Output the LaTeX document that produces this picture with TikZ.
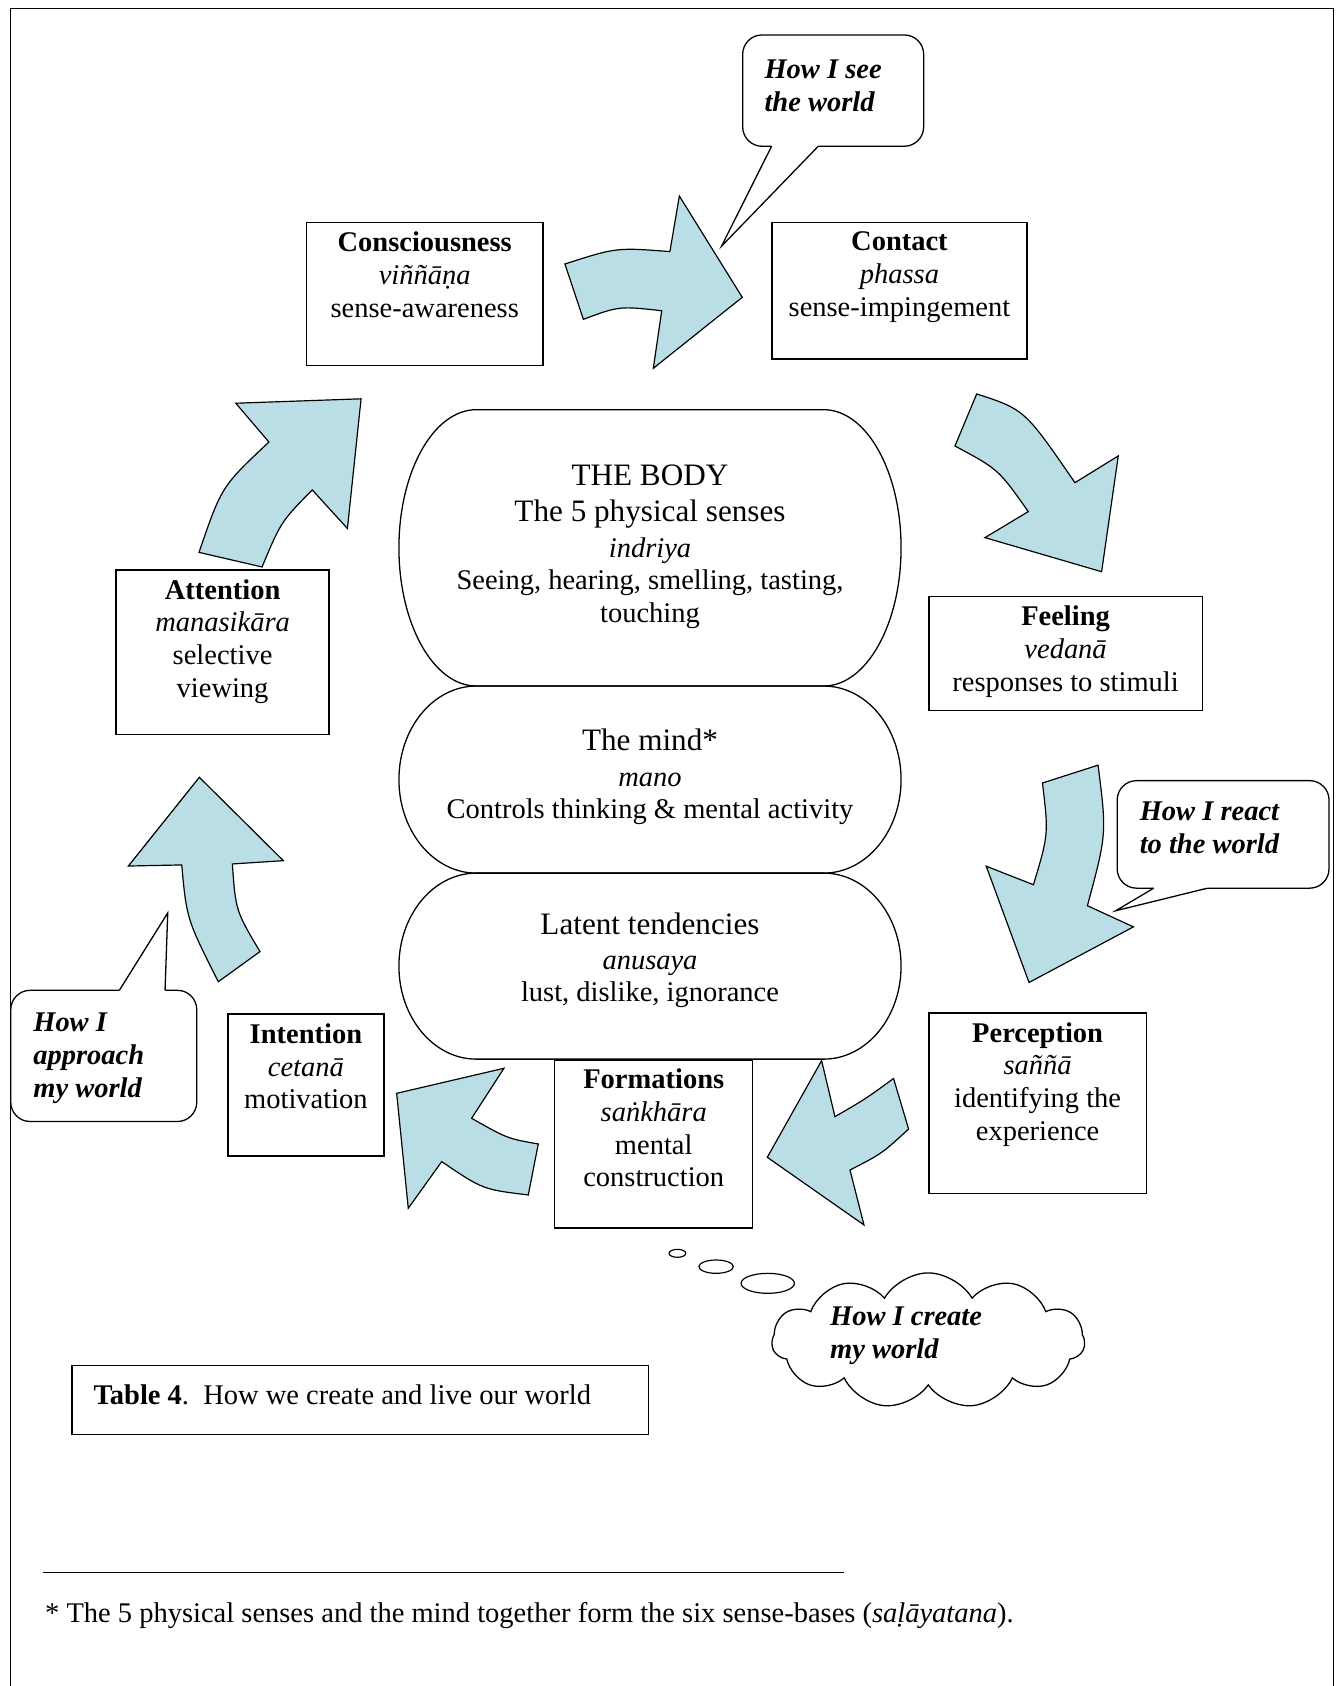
\documentclass[tikz,border=0pt]{standalone}
\usepackage{fontspec}
\setmainfont{Liberation Serif}
\usetikzlibrary{shapes.geometric,shapes.symbols}
\definecolor{arrowblue}{RGB}{185,222,229}
\begin{document}
\begin{tikzpicture}[x=1pt,y=-1pt,
  every node/.style={inner sep=0pt, outer sep=0pt},
  txt/.style={font=\fontsize{26.5}{30.6}\selectfont, align=center, anchor=north},
  ctxt/.style={font=\fontsize{26.5}{30.6}\selectfont\bfseries\itshape, align=left, anchor=north west},
  ltxt/.style={font=\fontsize{26.5}{30.6}\selectfont, align=left, anchor=north west},
  box/.style={draw, line width=1.2pt, rectangle},
  bluearrow/.style={fill=arrowblue, draw, line width=1.1pt, line join=miter},
  bubble/.style={draw, line width=1.2pt, rounded corners=18pt, fill=white, rectangle},
  stad/.style={draw, line width=1.2pt},
  tail/.style={draw, line width=1.2pt, line join=miter},
  bub/.style={ellipse, draw, line width=1.1pt}
]
\useasboundingbox (0,0) rectangle (1249,1568);
\fill[white] (0,0) rectangle (1249,1568);
% frame
\draw[line width=1.2pt] (10,1568) -- (10,8) -- (1240,8) -- (1240,1568);

% central stadiums
\draw[stad] (443,381) -- (766,381) arc[start angle=90, end angle=-90, x radius=72pt, y radius=128.5pt]
  -- (443,638) arc[start angle=270, end angle=90, x radius=72pt, y radius=128.5pt] -- cycle;
\draw[stad] (443,638) -- (766,638) arc[start angle=90, end angle=-90, x radius=72pt, y radius=87pt]
  -- (443,812) arc[start angle=270, end angle=90, x radius=72pt, y radius=87pt] -- cycle;
\draw[stad] (443,812) -- (766,812) arc[start angle=90, end angle=-90, x radius=72pt, y radius=86.5pt]
  -- (443,985) arc[start angle=270, end angle=90, x radius=72pt, y radius=86.5pt] -- cycle;

\node[txt] (body-t) at (604.5,432) {{\fontsize{29}{33}\selectfont THE BODY}\\[3.4pt]
  {\fontsize{29}{33}\selectfont The 5 physical senses}\\[2.3pt]
  \textit{indriya}\\ Seeing, hearing, smelling, tasting,\\ touching};
\node[txt] (mind-t) at (604.5,678) {{\fontsize{29}{33}\selectfont The mind*}\\[2.3pt]
  \textit{mano}\\ Controls thinking \& mental activity};
\node[txt] (latent-t) at (604.5,849) {{\fontsize{29}{33}\selectfont Latent tendencies}\\[2.3pt]
  \textit{anusaya}\\[-1.2pt] lust, dislike, ignorance};

% boxes
\node[box, minimum width=220pt, minimum height=133pt] (cons) at (395,273.5) {};
\node[txt] (cons-t) at (395,215.7) {\textbf{Consciousness}\\\textit{viññāṇa}\\sense-awareness};
\node[box, minimum width=237pt, minimum height=127pt] (cont) at (836.5,270.5) {};
\node[txt] (cont-t) at (836.5,215.7) {\textbf{Contact}\\\textit{phassa}\\sense-impingement};
\node[box, minimum width=198pt, minimum height=153pt] (att) at (207,606.5) {};
\node[txt] (att-t) at (207,538.7) {\textbf{Attention}\\\textit{manasikāra}\\selective\\viewing};
\node[box, minimum width=254pt, minimum height=106pt] (feel) at (991,608) {};
\node[txt] (feel-t) at (991,563.7) {\textbf{Feeling}\\\textit{vedanā}\\responses to stimuli};
\node[box, minimum width=202pt, minimum height=168pt] (perc) at (965,1026) {};
\node[txt] (perc-t) at (965,950.7) {\textbf{Perception}\\\textit{saññā}\\identifying the\\experience};
\node[box, minimum width=184pt, minimum height=156pt] (form) at (608,1064) {};
\node[txt] (form-t) at (608,993.7) {\textbf{Formations}\\\textit{saṅkhāra}\\mental\\construction};
\node[box, minimum width=145pt, minimum height=132pt] (int) at (284.5,1009) {};
\node[txt] (int-t) at (284.5,951.7) {\textbf{Intention}\\\textit{cetanā}\\motivation};
\node[box, minimum width=536pt, minimum height=64pt] (tab) at (335,1302) {};
\node[ltxt] (tab-t) at (87,1287.7) {\textbf{Table 4}.~~How we create and live our world};

% block arrows
\draw[bluearrow] (525.4,245.5) .. controls (573.3,230.1) .. (623,234) -- (631.8,182.3) -- (690.3,276.5)
  -- (607.6,342.5) -- (615.4,289) .. controls (575.8,284.6) .. (542.5,297) -- cycle;
\draw[bluearrow] (908.3,366.4) .. controls (952.9,380.8) .. (999.7,448.9) -- (1040,424) -- (1024.5,531.7)
  -- (916,500) -- (956.3,475.8) .. controls (928.5,436.4) .. (888.1,414.8) -- cycle;
\draw[bluearrow] (969.5,728.2) -- (1021.2,711.6) .. controls (1029.3,775.4) .. (1011.3,842.3) -- (1054.1,862)
  -- (957,913.7) -- (917.2,805.6) -- (961.1,822.8) .. controls (975.2,775.9) .. (969.5,728.2) -- cycle;
\draw[bluearrow] (764.1,986.4) -- (776.5,1038.5) .. controls (805,1022) .. (831,1003) -- (845,1050)
  .. controls (820,1073) .. (790.5,1088.1) -- (803.5,1139.2) -- (713.6,1076.3) -- cycle;
\draw[bluearrow] (368.9,1016.8) -- (468.7,993.5) -- (438.6,1040) .. controls (471.7,1058.8) .. (500.6,1063.9)
  -- (491.3,1111.3) .. controls (449,1106.2) .. (410.8,1080.3) -- (379.7,1123.7) -- cycle;
\draw[bluearrow] (185.4,722.9) -- (263.5,800.4) -- (216.1,803.5) .. controls (219.2,847) .. (241.8,885)
  -- (203,913) .. controls (173.6,854.6) .. (169,804.4) -- (119.4,805.4) -- cycle;
\draw[bluearrow] (219.3,375) -- (335.8,370.9) -- (323.1,491.5) -- (290.4,455.6) .. controls (261.4,485.1) .. (243.7,527.3)
  -- (185.1,513.7) .. controls (206,452.5) .. (250.1,411.1) -- cycle;

% speech bubbles
\node[bubble, minimum width=168.3pt, minimum height=103.5pt] (see) at (774.85,84.25) {};
\coordinate (seeL) at (717.6,136); \coordinate (seeP) at (671,229); \coordinate (seeR) at (761,136);
\fill[white] (seeL) -- (seeP) -- (seeR) -- ([yshift=1.6pt]seeR) -- ([yshift=1.6pt]seeL) -- cycle;
\draw[tail] (seeL) -- (seeP) -- (seeR);
\node[ctxt] (see-t) at (711,55.7) {How I see\\the world};

\node[bubble, minimum width=197pt, minimum height=100pt] (react) at (1137.5,776) {};
\coordinate (reactL) at (1073,826); \coordinate (reactP) at (1037.6,847); \coordinate (reactR) at (1123,826);
\fill[white] (reactL) -- (reactP) -- (reactR) -- ([yshift=1.6pt]reactR) -- ([yshift=1.6pt]reactL) -- cycle;
\draw[tail] (reactL) -- (reactP) -- (reactR);
\node[ctxt] (react-t) at (1060,745.7) {How I react\\to the world};

\node[bubble, minimum width=173pt, minimum height=122pt] (appr) at (96.5,982) {};
\coordinate (apprL) at (111,921); \coordinate (apprP) at (156,849); \coordinate (apprR) at (153.5,921);
\fill[white] (apprL) -- (apprP) -- (apprR) -- ([yshift=-1.6pt]apprR) -- ([yshift=-1.6pt]apprL) -- cycle;
\draw[tail] (apprL) -- (apprP) -- (apprR);
\node[ctxt] (appr-t) at (31,941.7) {How I\\approach\\my world};

% thought cloud
\node[bub, minimum width=15.6pt, minimum height=7.4pt] (b1) at (630,1165.6) {};
\node[bub, minimum width=32pt, minimum height=12.4pt] (b2) at (666,1178) {};
\node[bub, minimum width=49.6pt, minimum height=18.6pt] (b3) at (714,1193.5) {};
\node[cloud, draw, line width=1.2pt, fill=white, cloud puffs=11, cloud puff arc=120, aspect=2.3,
  minimum width=291pt, minimum height=126pt] (cloud) at (863.3,1246.8) {};
\node[ctxt] (cloud-t) at (772,1215.7) {How I create\\my world};

% footnote
\coordinate (fnA) at (40,1462); \coordinate (fnB) at (785,1462);
\draw[line width=1pt] (fnA) -- (fnB);
\node[ltxt] (fn) at (42,1490.7) {* The 5 physical senses and the mind together form the six sense-bases (\textit{saḷāyatana}).};
\end{tikzpicture}
\end{document}
